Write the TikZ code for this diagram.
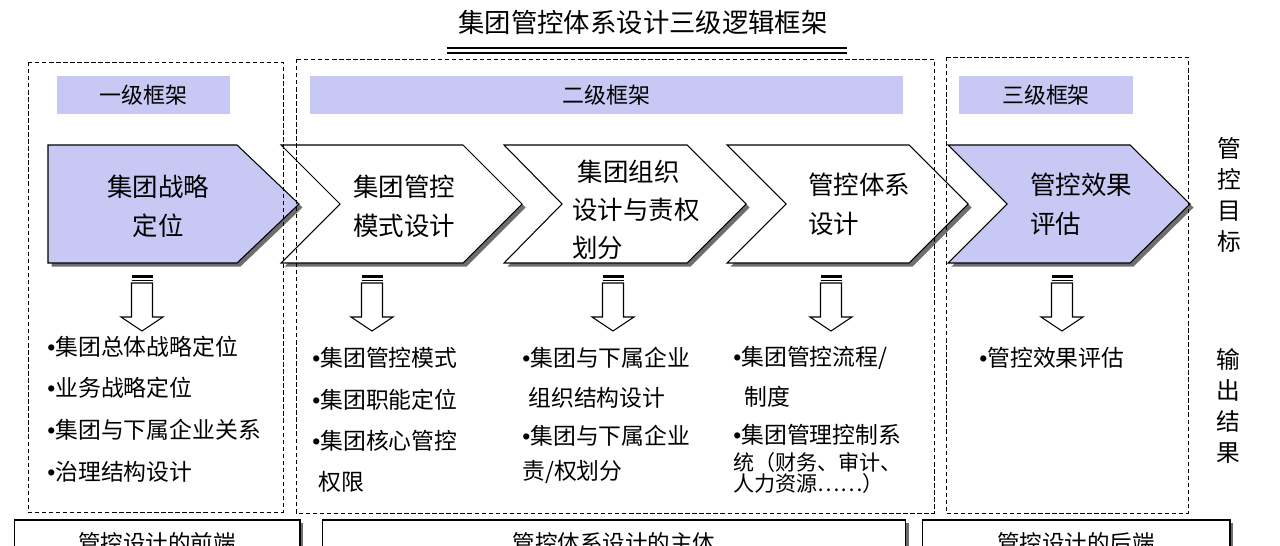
\documentclass[tikz,border=0pt]{standalone}
\usepackage{fontspec}
\setmainfont{Noto Sans CJK SC}
\newfontfamily\dotfont{Liberation Sans}
\newcommand\itemdot{{\dotfont •}}
\usetikzlibrary{shadows}
\definecolor{lavender}{RGB}{200,200,245}
\definecolor{shade}{RGB}{110,110,110}
\tikzset{
  frame/.style={draw, line width=0.5pt, dash pattern=on 2.5pt off 1.5pt},
  chev/.style={draw, line width=0.6pt, fill=white,
    drop shadow={shadow xshift=0.07cm, shadow yshift=-0.07cm, fill=shade, opacity=1}},
  bar/.style={fill=lavender, inner sep=0, minimum height=0.76cm, font=\fontsize{12.5}{15}\selectfont},
  label/.style={font=\fontsize{14.5}{22}\selectfont},
  item/.style={anchor=west, inner sep=0, font=\fontsize{13}{15}\selectfont},
  panel/.style={draw, line width=0.6pt, fill=white, inner sep=0, minimum height=0.92cm,
    font=\fontsize{12.8}{15}\selectfont,
    drop shadow={shadow xshift=0.06cm, shadow yshift=-0.06cm, fill=shade, opacity=1}}
}
\begin{document}
\begin{tikzpicture}[x=0.02cm, y=-0.02cm]
  \useasboundingbox (0,0) rectangle (1280,545);
  % title
  \node[font=\fontsize{15}{18}\selectfont] (title) at (643,22) {集团管控体系设计三级逻辑框架};
  \draw[line width=0.6pt] (447,48) -- (847,48);
  \draw[line width=0.6pt] (447,53) -- (847,53);

  % level bars
  \node[bar, minimum width=3.46cm] (lv1) at (143.5,95) {一级框架};
  \node[bar, minimum width=11.86cm] (lv2) at (606.5,95) {二级框架};
  \node[bar, minimum width=3.48cm] (lv3) at (1046,95) {三级框架};

  % chevrons
  \path[chev, fill=lavender] (48,145) -- (237,145) -- (299,204) -- (237,263) -- (48,263) -- cycle;
  \path[chev] (281,145) -- (463,145) -- (522,204) -- (463,263) -- (281,263) -- (340,204) -- cycle;
  \path[chev] (504,145) -- (687,145) -- (746,204) -- (687,263) -- (504,263) -- (562,204) -- cycle;
  \path[chev] (727,145) -- (909,145) -- (968,204) -- (909,263) -- (727,263) -- (786,204) -- cycle;
  \path[chev, fill=lavender] (948,145) -- (1130,145) -- (1190,204) -- (1130,263) -- (948,263) -- (1007,204) -- cycle;
  \node[label, align=center] (strat) at (158,206) {集团战略\\定位};
  \node[label, align=center] (mode) at (404,206) {集团管控\\模式设计};
  \node[label, align=left, anchor=west, inner sep=0, font=\fontsize{14.5}{21.5}\selectfont] (org) at (572,210) {\hspace*{3pt}集团组织\\设计与责权\\划分};
  \node[label, align=left, anchor=west, inner sep=0] (sys) at (808,204) {管控体系\\设计};
  \node[label, align=left, anchor=west, inner sep=0] (eval) at (1030,204) {管控效果\\评估};

  % side labels
  \node[align=center, font=\fontsize{13.5}{17.6}\selectfont] (goal) at (1229,195) {管\\控\\目\\标};
  \node[align=center, font=\fontsize{13.5}{17.6}\selectfont] (output) at (1228,406) {输\\出\\结\\果};

  % down arrows
  \foreach \x in {142,372,613,831,1062}{
    \fill (\x-10.5,275) rectangle (\x+10.5,277.5);
    \draw[line width=0.5pt] (\x-10.5,280.5) -- (\x+10.5,280.5);
    \draw[line width=0.6pt, fill=white] (\x-10.5,283) -- (\x+10.5,283) -- (\x+10.5,317) -- (\x+21,317)
      -- (\x,331) -- (\x-21,317) -- (\x-10.5,317) -- cycle;
  }

  % outputs
  \node[item] (s1) at (47,347) {\itemdot 集团总体战略定位};
  \node[item] (s2) at (47,388) {\itemdot 业务战略定位};
  \node[item] (s3) at (47,430) {\itemdot 集团与下属企业关系};
  \node[item] (s4) at (47,472) {\itemdot 治理结构设计};
  \node[item] (m1) at (312,358) {\itemdot 集团管控模式};
  \node[item] (m2) at (312,400) {\itemdot 集团职能定位};
  \node[item] (m3) at (312,441) {\itemdot 集团核心管控};
  \node[item] (m4) at (318,482) {权限};
  \node[item] (o1) at (522,358) {\itemdot 集团与下属企业};
  \node[item] (o2) at (528,398) {组织结构设计};
  \node[item] (o3) at (522,436) {\itemdot 集团与下属企业};
  \node[item] (o4) at (522,472) {责/权划分};
  \node[item] (c1) at (733,358) {\itemdot 集团管控流程/};
  \node[item] (c2) at (744,397) {制度};
  \node[item] (c3) at (733,435) {\itemdot 集团管理控制系};
  \node[item, font=\fontsize{12}{14}\selectfont] (c4) at (733,462) {统（财务、审计、};
  \node[item, font=\fontsize{12}{14}\selectfont] (c5) at (733,483) {人力资源……）};
  \node[item] (e1) at (979,358) {\itemdot 管控效果评估};

  % dashed frames
  \draw[frame] (28,62) rectangle (283,512);
  \draw[frame] (296,59) rectangle (934,513);
  \draw[frame] (946,57) rectangle (1188,513);

  % bottom panels
  \node[panel, minimum width=5.72cm] (front) at (157,543) {管控设计的前端};
  \node[panel, minimum width=11.68cm] (body) at (614,543) {管控体系设计的主体};
  \node[panel, minimum width=6.16cm] (back) at (1076,543) {管控设计的后端};
\end{tikzpicture}
\end{document}
